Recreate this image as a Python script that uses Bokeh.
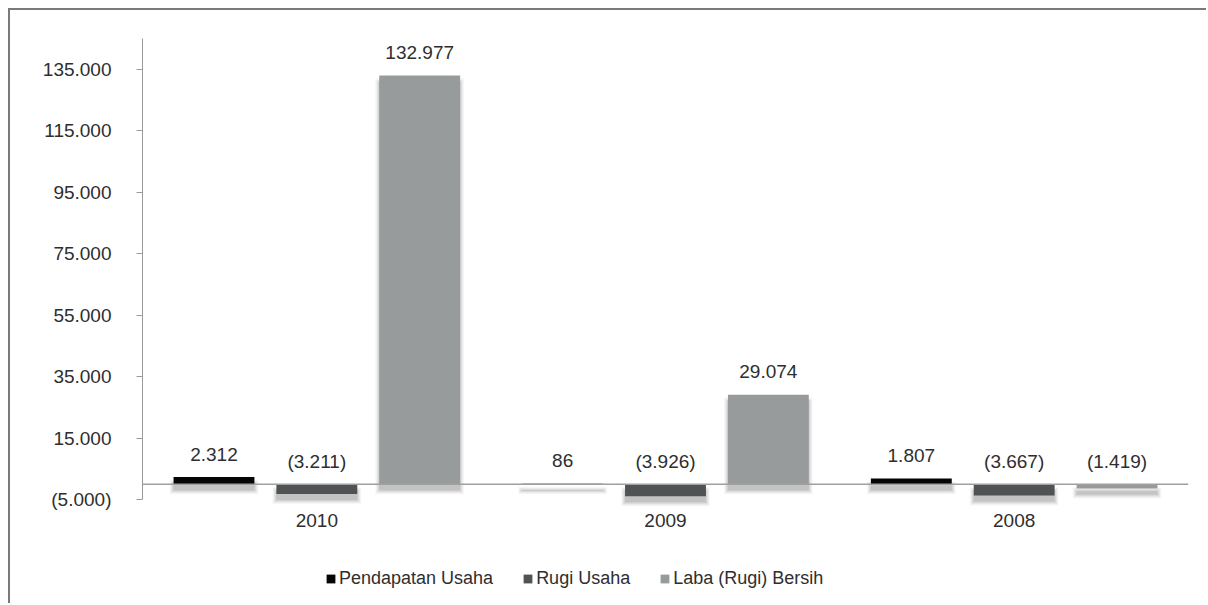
from bokeh.plotting import figure
from bokeh.models import (ColumnDataSource, FactorRange, Range1d, FixedTicker,
                          Span, Legend, LegendItem)
from bokeh.transform import dodge
from bokeh.core.properties import value
from bokeh.embed import file_html
from bokeh.resources import INLINE

# ---- data -------------------------------------------------------------
years = ["2010", "2009", "2008"]
series_names = ["Pendapatan Usaha", "Rugi Usaha", "Laba (Rugi) Bersih"]
pendapatan_usaha = [2312, 86, 1807]
rugi_usaha = [-3211, -3926, -3667]
laba_rugi_bersih = [132977, 29074, -1419]
series_colors = ["#050505", "#4f5354", "#989b9b"]

y_ticks = [-5000, 15000, 35000, 55000, 75000, 95000, 115000, 135000]
y_tick_labels = ["(5.000)", "15.000", "35.000", "55.000",
                 "75.000", "95.000", "115.000", "135.000"]


def fmt(v):
    """Indonesian thousands separator, negatives in parentheses."""
    s = f"{abs(v):,}".replace(",", ".")
    return f"({s})" if v < 0 else s


# ---- geometry ---------------------------------------------------------
Y_MIN, Y_MAX = -5000, 145000          # value axis extent
AXIS_H = 461                           # pixel height of the value axis
PLOT_W, PLOT_H = 1198, 595
TOP, LEFT, RIGHT = 28, 132, 20
FRAME_W = PLOT_W - LEFT - RIGHT
FRAME_H = PLOT_H - TOP                 # frame runs to the bottom edge
PX_Y = (Y_MAX - Y_MIN) / AXIS_H        # data units per pixel (y)
PX_X = len(years) / FRAME_W            # category units per pixel (x)
Y_LOW = Y_MAX - FRAME_H * PX_Y         # extra room below for labels/legend
BAR_W = 0.232
STEP = 0.295
FONT = "Liberation Sans"
NUM_SIZE = "19px"
TEXT_COLOR = "#2e2e2e"

p = figure(
    x_range=FactorRange(*years, range_padding=0),
    y_range=Range1d(Y_LOW, Y_MAX),
    width=PLOT_W, height=PLOT_H,
    min_border_left=LEFT, min_border_right=RIGHT,
    min_border_top=TOP, min_border_bottom=0,
    output_backend="svg", toolbar_location=None,
    background_fill_color="white", border_fill_color="white",
    margin=(8, 0, 0, 8),
)
p.styles = {"border-top": "2px solid #7a7a7a", "border-left": "2px solid #7a7a7a"}
p.outline_line_color = None
p.grid.visible = False
p.xaxis.visible = False

# value axis
p.yaxis.bounds = (Y_MIN, Y_MAX)
p.yaxis.ticker = FixedTicker(ticks=y_ticks)
p.yaxis.major_label_overrides = dict(zip(y_ticks, y_tick_labels))
p.yaxis.axis_line_color = "#9a9a9a"
p.yaxis.major_tick_line_color = "#9a9a9a"
p.yaxis.major_tick_out = 6
p.yaxis.major_tick_in = 0
p.yaxis.minor_tick_line_color = None
p.yaxis.major_label_standoff = 25
p.yaxis.major_label_text_font = FONT
p.yaxis.major_label_text_font_size = NUM_SIZE
p.yaxis.major_label_text_color = TEXT_COLOR

series_values = [pendapatan_usaha, rugi_usaha, laba_rugi_bersih]
offsets = [-STEP, 0.0, STEP]

# soft drop shadow below each bar
for vals, off in zip(series_values, offsets):
    top = [max(v, 0) for v in vals]
    bottom = [min(v, 0) for v in vals]
    for e, a in [(4, 0.03), (3, 0.04), (2, 0.05), (1, 0.06), (0, 0.07)]:
        sh = ColumnDataSource(dict(
            year=years,
            top=[t - 7 * PX_Y + e * PX_Y for t in top],
            bottom=[b - 6 * PX_Y - e * PX_Y for b in bottom],
        ))
        p.vbar(x=dodge("year", off, range=p.x_range), top="top", bottom="bottom",
               width=BAR_W + 2 * e * PX_X, source=sh,
               fill_color="black", fill_alpha=a, line_color=None)

renderers = []
for vals, color, off in zip(series_values, series_colors, offsets):
    src = ColumnDataSource(dict(
        year=years,
        top=[max(v, 0) for v in vals],
        bottom=[min(v, 0) for v in vals],
        label_y=[max(v, 0) for v in vals],
        label=[fmt(v) for v in vals],
    ))
    r = p.vbar(x=dodge("year", off, range=p.x_range), top="top", bottom="bottom",
               width=BAR_W, source=src, fill_color=color, line_color=None)
    renderers.append(r)
    p.text(x=dodge("year", off, range=p.x_range), y="label_y", text="label",
           source=src, y_offset=-23, text_align="center", text_baseline="middle",
           text_font=value(FONT), text_font_size=NUM_SIZE, text_color=TEXT_COLOR)

# zero baseline
p.add_layout(Span(location=0, dimension="width", line_color="#a0a0a0", line_width=1.5))

# category labels under the value axis
cat_src = ColumnDataSource(dict(year=years, y=[Y_MIN] * len(years)))
p.text(x="year", y="y", text="year", source=cat_src, y_offset=21,
       text_align="center", text_baseline="middle",
       text_font=value(FONT), text_font_size=NUM_SIZE, text_color=TEXT_COLOR)

legend = Legend(
    items=[LegendItem(label=n, renderers=[r]) for n, r in zip(series_names, renderers)],
    orientation="horizontal",
    location=(183, 16),
    glyph_width=11, glyph_height=11,
    label_standoff=3, spacing=29,
    padding=0, margin=0,
    border_line_color=None, background_fill_alpha=0,
    label_text_font=FONT, label_text_font_size="18px", label_text_color=TEXT_COLOR,
)
p.add_layout(legend, "center")

open("out.html", "w").write(file_html(p, INLINE))
